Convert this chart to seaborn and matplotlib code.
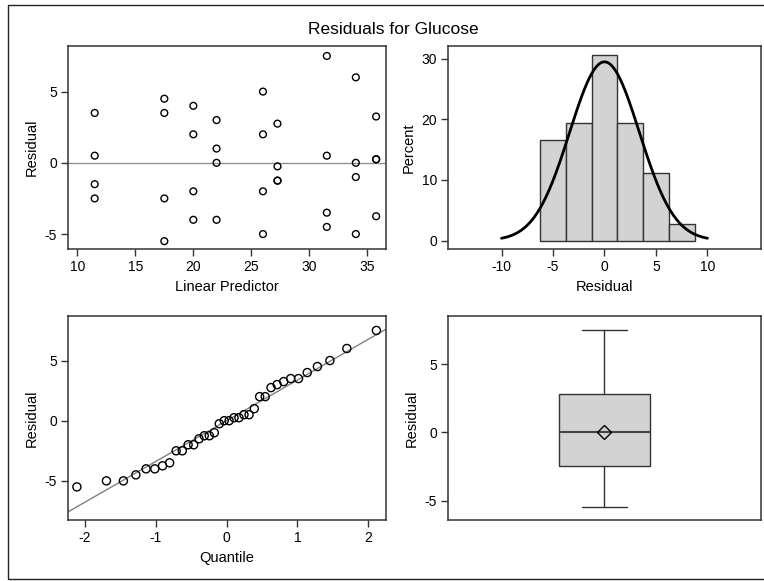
import numpy as np
import pandas as pd
import seaborn as sns
import matplotlib
matplotlib.use("Agg")
import matplotlib.pyplot as plt
from matplotlib.patches import Rectangle
from statistics import NormalDist

# group means (linear predictor) and residuals, 4 observations per group
predictor = [11.5] * 4 + [17.5] * 4 + [20] * 4 + [22] * 4 + [26] * 4 \
    + [27.25] * 4 + [31.5] * 4 + [34] * 4 + [35.75] * 4
residual = [3.5, 0.5, -1.5, -2.5,
            4.5, 3.5, -2.5, -5.5,
            4.0, 2.0, -2.0, -4.0,
            3.0, 1.0, 0.0, -4.0,
            5.0, 2.0, -2.0, -5.0,
            2.75, -0.25, -1.25, -1.25,
            7.5, 0.5, -3.5, -4.5,
            6.0, 0.0, -1.0, -5.0,
            3.25, 0.25, 0.25, -3.75]

hist_edges = [-6.25, -3.75, -1.25, 1.25, 3.75, 6.25, 8.75]

df = pd.DataFrame({"pred": predictor, "resid": residual})

sns.set_theme(style="white")
plt.rcParams["font.family"] = ["Liberation Sans", "DejaVu Sans"]
plt.rcParams["font.size"] = 10
plt.rcParams["axes.unicode_minus"] = False
plt.rcParams["text.color"] = "black"
plt.rcParams["axes.labelcolor"] = "black"
plt.rcParams["xtick.color"] = "black"
plt.rcParams["ytick.color"] = "black"

W, H = 764, 581
fig = plt.figure(figsize=(W / 100, H / 100), dpi=100)


def box(l, t, r, b):
    return [l / W, 1 - b / H, (r - l) / W, (b - t) / H]


ax_sc = fig.add_axes(box(68, 46, 386, 249))
ax_hi = fig.add_axes(box(448, 46, 761, 249))
ax_qq = fig.add_axes(box(68, 316, 386, 520))
ax_bx = fig.add_axes(box(448, 316, 761, 520))

edge = "#333333"
fill = "#D3D3D3"

# residual vs predictor
ax_sc.axhline(0, color="#909090", lw=1, zorder=1)
sns.scatterplot(data=df, x="pred", y="resid", ax=ax_sc, s=24,
                facecolor="none", edgecolor="black", linewidth=1, zorder=3)
ax_sc.set_xlim(9.2, 36.6)
ax_sc.set_ylim(-6.05, 8.2)
ax_sc.set_xticks([10, 15, 20, 25, 30, 35])
ax_sc.set_yticks([-5, 0, 5])
ax_sc.set_xlabel("Linear Predictor")
ax_sc.set_ylabel("Residual")

# histogram with fitted normal
res = np.array(residual)
mu, sd = res.mean(), res.std(ddof=1)
sns.histplot(x=res, bins=hist_edges, stat="percent", ax=ax_hi,
             color=fill, edgecolor=edge, linewidth=1, alpha=1)
xs = np.linspace(-10, 10, 200)
width = hist_edges[1] - hist_edges[0]
dens = [100 * width * NormalDist(mu, sd).pdf(v) for v in xs]
sns.lineplot(x=xs, y=dens, ax=ax_hi, color="black", lw=2)
ax_hi.set_xlim(-15.2, 15.2)
ax_hi.set_ylim(-1.4, 32.1)
ax_hi.set_xticks([-10, -5, 0, 5, 10])
ax_hi.set_yticks([0, 10, 20, 30])
ax_hi.set_xlabel("Residual")
ax_hi.set_ylabel("Percent")

# normal quantile plot
n = len(res)
srt = np.sort(res)
quant = [NormalDist().inv_cdf((i - 0.375) / (n + 0.25)) for i in range(1, n + 1)]
ax_qq.axline((0, mu), slope=sd, color="#808080", lw=1, zorder=1)
sns.scatterplot(x=quant, y=srt, ax=ax_qq, s=34,
                facecolor="none", edgecolor="black", linewidth=1, zorder=3)
ax_qq.set_xlim(-2.24, 2.25)
ax_qq.set_ylim(-8.25, 8.7)
ax_qq.set_xticks([-2, -1, 0, 1, 2])
ax_qq.set_yticks([-5, 0, 5])
ax_qq.set_xlabel("Quantile")
ax_qq.set_ylabel("Residual")

# box plot
sns.boxplot(y=res, ax=ax_bx, width=0.29, whis=(0, 100), color=fill,
            linecolor=edge, linewidth=1, showmeans=True,
            medianprops=dict(color="#444444", linewidth=1.5),
            meanprops=dict(marker="D", markerfacecolor="none",
                           markeredgecolor="black", markersize=7))
ax_bx.set_xlim(-0.5, 0.5)
ax_bx.set_ylim(-6.43, 8.53)
ax_bx.set_yticks([-5, 0, 5])
ax_bx.set_xticks([])
ax_bx.set_ylabel("Residual")

for ax in (ax_sc, ax_hi, ax_qq, ax_bx):
    for s in ax.spines.values():
        s.set_color(edge)
        s.set_linewidth(1.1)
        s.set_visible(True)
    ax.tick_params(direction="out", length=5, width=1, color=edge,
                   labelsize=10, pad=3, left=True, bottom=True)
    ax.xaxis.label.set_size(10.5)
    ax.yaxis.label.set_size(10.5)
ax_bx.tick_params(bottom=False)

fig.text(393 / W, 1 - 29 / H, "Residuals for Glucose", ha="center",
         va="center", fontsize=12.5)

fig.patches.append(Rectangle((8 / W, 1 - 579 / H), 1.2, (579 - 5) / H,
                             transform=fig.transFigure, fill=False,
                             edgecolor="#222222", lw=1))

fig.savefig("out.png", dpi=100)
